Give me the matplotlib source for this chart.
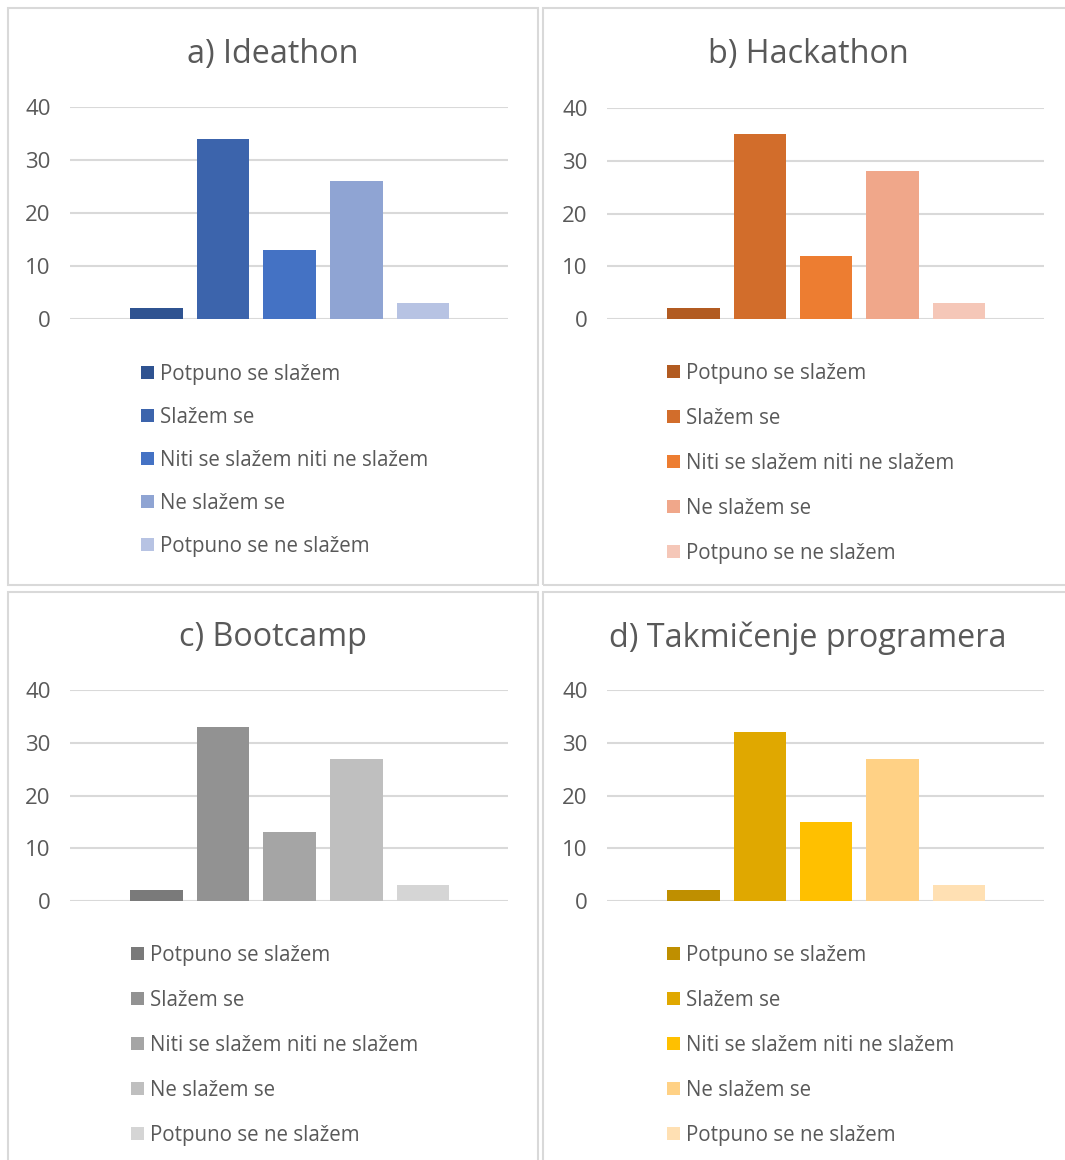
import matplotlib
matplotlib.use("Agg")
import matplotlib.pyplot as plt
from matplotlib.patches import Rectangle

plt.rcParams['font.family'] = ['Open Sans', 'DejaVu Sans']

# data
labels = ["Potpuno se slažem", "Slažem se", "Niti se slažem niti ne slažem",
          "Ne slažem se", "Potpuno se ne slažem"]
titles = ["a) Ideathon", "b) Hackathon", "c) Bootcamp", "d) Takmičenje programera"]
ideathon = [2, 34, 13, 26, 3]
hackathon = [2, 35, 12, 28, 3]
bootcamp = [2, 33, 13, 27, 3]
takmicenje = [2, 32, 15, 27, 3]
series = [ideathon, hackathon, bootcamp, takmicenje]

blues = ["#2F5391", "#3C64AC", "#4472C4", "#8FA4D3", "#B7C3E3"]
oranges = ["#B25B21", "#D26D2B", "#ED7D31", "#F0A78A", "#F5C7B8"]
greys = ["#7A7A7A", "#929292", "#A5A5A5", "#BFBFBF", "#D5D5D5"]
golds = ["#BF8F00", "#E0A800", "#FFC000", "#FFD185", "#FFE0B3"]
palettes = [blues, oranges, greys, golds]

W, H = 1065, 1160
fig = plt.figure(figsize=(W / 100, H / 100), dpi=100)

def fx(px):
    return px / W

def fy(py):
    return 1 - py / H

# panel layout in pixels: (box left, box top, box right, box bottom, axes left, axes right, y40, y0, legend x, legend y)
panels = [
    (8, 8, 538, 585, 70, 508, 107, 319, 141, 364),
    (543, 8, 1073, 585, 607, 1044, 108, 319, 667, 363),
    (8, 592, 538, 1169, 70, 508, 690, 901, 131, 945),
    (543, 592, 1073, 1169, 607, 1044, 690, 901, 667, 945),
]
spacings = [43, 45, 45, 45]
grid_c = "#D9D9D9"
text_c = "#595959"
leg_fs = 14.8

for i, (bl, bt, br, bb, al, ar, yt, yb, lx, ly) in enumerate(panels):
    fig.patches.append(Rectangle((fx(bl), fy(bb)), fx(br - bl), (bb - bt) / H,
                                 transform=fig.transFigure, fill=False,
                                 edgecolor=grid_c, linewidth=1.5, zorder=0))
    ax = fig.add_axes([fx(al), fy(yb), fx(ar - al), (yb - yt) / H])
    bars = ax.bar(range(5), series[i], width=0.79, color=palettes[i], zorder=3)
    ax.set_xlim(-1.3, 5.28)
    ax.set_ylim(0, 40)
    ax.set_yticks([0, 10, 20, 30, 40])
    ax.set_xticks([])
    ax.grid(axis='y', color=grid_c, linewidth=1.5, zorder=0)
    for s in ax.spines.values():
        s.set_visible(False)
    ax.tick_params(axis='y', length=0, pad=14, labelsize=16, labelcolor=text_c)
    ax.patch.set_alpha(0)
    fig.text(fx((bl + br) / 2), fy(bt + 46), titles[i], ha='center',
             va='center', fontsize=23.3, color=text_c)
    row_px = spacings[i]
    ax.legend(bars, labels, loc='upper left', bbox_to_anchor=(fx(lx), fy(ly)),
              bbox_transform=fig.transFigure, frameon=False, borderpad=0,
              borderaxespad=0, handlelength=0.62, handleheight=0.62,
              handletextpad=0.32, labelspacing=(row_px - 21.0) / (leg_fs * 1.389),
              fontsize=leg_fs, labelcolor=text_c)

fig.savefig("out.png", dpi=100)
